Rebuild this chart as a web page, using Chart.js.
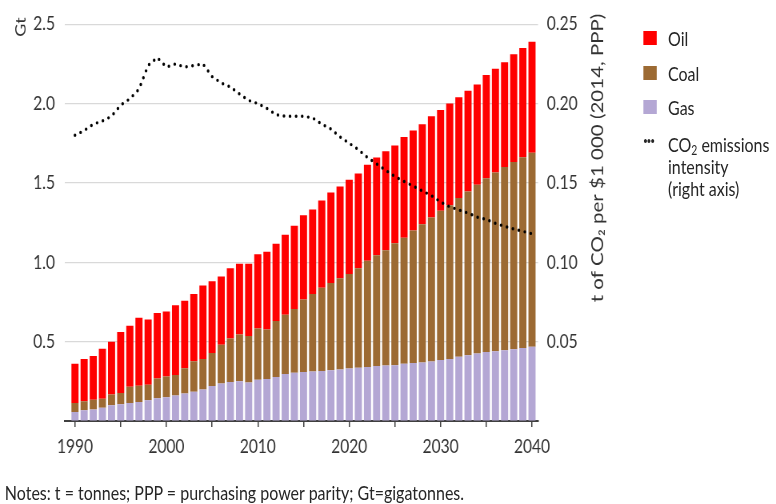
<!DOCTYPE html>
<html>
<head>
<meta charset="utf-8">
<script src="https://cdn.jsdelivr.net/npm/chart.js@4/dist/chart.umd.min.js"></script>
<style>
  html, body { margin: 0; padding: 0; background: #fff; overflow: hidden; width: 776px; height: 504px; }
  #wrap { position: absolute; left: 0; top: 0; width: 970px; height: 504px; transform: scaleX(0.8); transform-origin: 0 0; font-family: Lato, "Open Sans", sans-serif; color: #262626; }
  #c { position: absolute; left: 0; top: 0; }
  .lg { position: absolute; font-size: 20px; line-height: 22px; white-space: nowrap; }
  .sw { position: absolute; width: 17px; height: 14px; }
  .dots { position: absolute; font-size: 20px; line-height: 10px; font-weight: bold; letter-spacing: -1px; }
  sub { font-size: 0.65em; vertical-align: -0.2em; line-height: 0; }
  #notes { position: absolute; left: 6px; top: 481px; font-size: 20px; line-height: 22px; white-space: nowrap; }
</style>
</head>
<body>
<div id="wrap">
  <canvas id="c" width="970" height="504"></canvas>
  <div class="sw" style="left:804px; top:31px; background:#FF0000"></div>
  <div class="lg" style="left:835px; top:27px">Oil</div>
  <div class="sw" style="left:804px; top:66px; background:#9C6A33"></div>
  <div class="lg" style="left:835px; top:62px">Coal</div>
  <div class="sw" style="left:804px; top:100px; background:#B4A7D4"></div>
  <div class="lg" style="left:835px; top:96px">Gas</div>
  <div class="dots" style="left:804px; top:134px">···</div>
  <div class="lg" style="left:835px; top:133px">CO<sub>2</sub> emissions</div>
  <div class="lg" style="left:835px; top:155px">intensity</div>
  <div class="lg" style="left:835px; top:177px">(right axis)</div>
  <div id="notes">Notes: t = tonnes; PPP = purchasing power parity; Gt=gigatonnes.</div>
</div>
<script>
// ---- Data ----
const years = [1990,1991,1992,1993,1994,1995,1996,1997,1998,1999,
               2000,2001,2002,2003,2004,2005,2006,2007,2008,2009,
               2010,2011,2012,2013,2014,2015,2016,2017,2018,2019,
               2020,2021,2022,2023,2024,2025,2026,2027,2028,2029,
               2030,2031,2032,2033,2034,2035,2036,2037,2038,2039,
               2040];
// Gt CO2
const gas = [0.057,0.067,0.072,0.084,0.099,0.105,0.113,0.119,0.130,0.144,
             0.150,0.160,0.173,0.185,0.198,0.220,0.236,0.245,0.250,0.242,
             0.260,0.265,0.278,0.296,0.304,0.309,0.312,0.315,0.319,0.325,
             0.331,0.335,0.340,0.346,0.350,0.352,0.360,0.366,0.368,0.375,
             0.385,0.390,0.405,0.415,0.425,0.435,0.440,0.445,0.452,0.460,
             0.468];
const coal = [0.056,0.058,0.062,0.056,0.068,0.072,0.103,0.103,0.098,0.123,
              0.130,0.130,0.160,0.192,0.192,0.208,0.244,0.275,0.295,0.294,
              0.323,0.312,0.352,0.374,0.402,0.456,0.488,0.525,0.551,0.575,
              0.595,0.628,0.670,0.699,0.726,0.768,0.795,0.834,0.872,0.907,
              0.940,0.970,1.000,1.031,1.063,1.095,1.125,1.155,1.180,1.202,
              1.222];
const oil = [0.247,0.265,0.276,0.315,0.333,0.383,0.384,0.428,0.412,0.413,
             0.410,0.440,0.424,0.423,0.464,0.452,0.430,0.443,0.445,0.454,
             0.467,0.489,0.487,0.503,0.524,0.531,0.533,0.549,0.570,0.577,
             0.594,0.597,0.605,0.615,0.624,0.615,0.635,0.630,0.630,0.638,
             0.635,0.640,0.635,0.634,0.632,0.650,0.655,0.660,0.678,0.688,
             0.700];
// t CO2 per $1 000 (2014, PPP) - right axis
const intensity = [0.180,0.183,0.187,0.189,0.192,0.199,0.203,0.209,0.224,0.229,
                   0.223,0.225,0.223,0.224,0.225,0.217,0.213,0.2105,0.206,0.202,
                   0.200,0.197,0.193,0.192,0.192,0.192,0.191,0.187,0.184,0.179,
                   0.175,0.171,0.166,0.162,0.158,0.154,0.151,0.148,0.145,0.142,
                   0.138,0.135,0.133,0.131,0.1285,0.127,0.1245,0.1227,0.121,0.1195,
                   0.118];
const xTicks = [1990,1995,2000,2005,2010,2015,2020,2025,2030,2035,2040];
const xLabels = ['1990','2000','2010','2020','2030','2040'];
const leftTicks = [0, 0.5, 1.0, 1.5, 2.0, 2.5];
const rightTicks = [0, 0.05, 0.10, 0.15, 0.20, 0.25];
const leftTitle = 'Gt';
const rightTitle = 't of CO\u2082 per $1 000 (2014, PPP)';

const pts = arr => years.map((y, i) => ({ x: y, y: arr[i] }));
const tickFont = { family: 'Lato, "Open Sans", sans-serif', size: 19.5 };
const textColor = '#333333';

const titlePlugin = {
  id: 'axisTitles',
  afterDraw(chart) {
    const ctx = chart.ctx;
    ctx.save();
    ctx.fillStyle = textColor;
    ctx.textAlign = 'center';
    ctx.textBaseline = 'middle';
    ctx.font = '18px Lato, "Open Sans", sans-serif';
    ctx.translate(26, 27);
    ctx.rotate(-Math.PI / 2);
    ctx.fillText(leftTitle, 0, 0);
    ctx.restore();
    ctx.save();
    ctx.fillStyle = textColor;
    ctx.textAlign = 'center';
    ctx.textBaseline = 'middle';
    ctx.font = '20.5px Lato, "Open Sans", sans-serif';
    ctx.translate(747.5, 158);
    ctx.rotate(-Math.PI / 2);
    ctx.fillText(rightTitle, 0, 0);
    ctx.restore();
  }
};

new Chart(document.getElementById('c'), {
  type: 'bar',
  data: {
    datasets: [
      { type: 'line', label: 'CO2 emissions intensity (right axis)', data: pts(intensity), yAxisID: 'y1',
        borderColor: '#000', borderWidth: 3.4, borderDash: [0, 7.6], borderCapStyle: 'round',
        pointRadius: 0, fill: false, tension: 0, order: 0 },
      { label: 'Gas', data: pts(gas), backgroundColor: '#B4A7D4', stack: 's', order: 1,
        barPercentage: 0.78, categoryPercentage: 1.0 },
      { label: 'Coal', data: pts(coal), backgroundColor: '#9C6A33', stack: 's', order: 1,
        barPercentage: 0.78, categoryPercentage: 1.0 },
      { label: 'Oil', data: pts(oil), backgroundColor: '#FF0000', stack: 's', order: 1,
        barPercentage: 0.78, categoryPercentage: 1.0 }
    ]
  },
  options: {
    responsive: false,
    animation: false,
    events: [],
    layout: { padding: { top: 16, left: 0, right: 0, bottom: 0 } },
    plugins: { legend: { display: false }, tooltip: { enabled: false } },
    scales: {
      x: {
        type: 'linear', stacked: true, offset: false,
        min: 1988.906, max: 2040.656,
        afterBuildTicks: s => { s.ticks = xTicks.map(v => ({ value: v })); },
        afterFit: s => { s.height = 83; },
        grid: { drawOnChartArea: false, drawTicks: true, tickLength: 6, color: '#404040', lineWidth: 1.5, offset: false },
        border: { display: true, color: '#404040', width: 2 },
        ticks: { autoSkip: false, maxRotation: 0, padding: 8, color: textColor, font: tickFont,
                 callback: v => xLabels.includes(String(v)) ? String(v) : '' }
      },
      y: {
        type: 'linear', position: 'left', stacked: true, min: 0, max: 2.5,
        afterBuildTicks: s => { s.ticks = leftTicks.map(v => ({ value: v })); },
        afterFit: s => { s.width = 81.25; },
        grid: { color: '#D9D9D9', lineWidth: 1.2, drawTicks: false },
        border: { display: false },
        ticks: { padding: 12.5, color: textColor, font: tickFont,
                 callback: v => v === 0 ? '' : v.toFixed(1) }
      },
      y1: {
        type: 'linear', position: 'right', min: 0, max: 0.25,
        afterBuildTicks: s => { s.ticks = rightTicks.map(v => ({ value: v })); },
        afterFit: s => { s.width = 297.5; },
        grid: { display: false, drawTicks: false },
        border: { display: false },
        ticks: { padding: 11, color: textColor, font: tickFont,
                 callback: v => v === 0 ? '' : v.toFixed(2) }
      }
    }
  },
  plugins: [titlePlugin]
});
</script>
</body>
</html>
